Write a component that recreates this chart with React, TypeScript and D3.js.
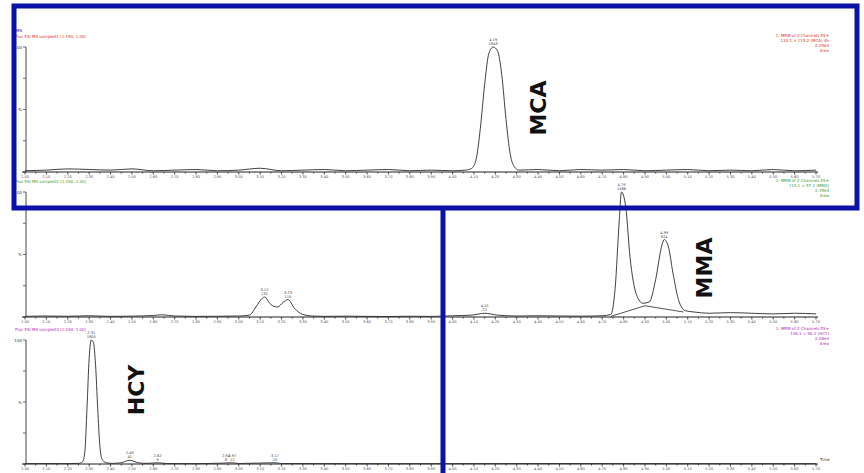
import React from "react";
import * as d3 from "d3";

const width = 864;
const height = 473;

// retention time axis (min)
const timeTicks = [
  2.0, 2.1, 2.2, 2.3, 2.4, 2.5, 2.6, 2.7, 2.8, 2.9,
  3.0, 3.1, 3.2, 3.3, 3.4, 3.5, 3.6, 3.7, 3.8, 3.9,
  4.0, 4.1, 4.2, 4.3, 4.4, 4.5, 4.6, 4.7, 4.8, 4.9,
  5.0, 5.1, 5.2, 5.3, 5.4, 5.5, 5.6, 5.7,
];

// traces: [time, relative %]
const mcaTrace: [number, number][] = [
  [2.0, 1], [2.1, 1.5], [2.2, 2.5], [2.3, 2], [2.4, 1.5], [2.5, 2.5], [2.6, 1],
  [2.7, 1.5], [2.8, 2], [2.9, 1], [3.0, 1.5], [3.1, 3], [3.2, 1], [3.3, 1.5],
  [3.4, 2], [3.5, 1], [3.6, 1.5], [3.7, 2], [3.8, 1], [3.9, 1.5], [4.0, 1],
  [4.06, 1.5], [4.09, 3], [4.11, 10], [4.13, 35], [4.15, 70], [4.17, 95],
  [4.19, 100], [4.21, 97], [4.23, 78], [4.25, 42], [4.27, 14], [4.29, 4],
  [4.31, 1.5], [4.4, 2], [4.5, 1], [4.6, 2], [4.7, 1.5], [4.8, 2], [4.9, 1],
  [5.0, 1.5], [5.1, 2], [5.2, 1], [5.3, 1.5], [5.4, 1], [5.5, 2], [5.6, 1], [5.7, 1.5],
];

const mmaTrace: [number, number][] = [
  [2.0, 0.5], [2.1, 0.8], [2.2, 0.6], [2.3, 1], [2.4, 0.5], [2.5, 0.7], [2.6, 1.2],
  [2.64, 1.8], [2.7, 0.8], [2.8, 0.5], [2.9, 0.6], [3.0, 0.8], [3.05, 1.5],
  [3.08, 8], [3.11, 15], [3.12, 16], [3.15, 10], [3.18, 8], [3.21, 12], [3.23, 14],
  [3.26, 7], [3.3, 2], [3.34, 0.8], [3.4, 0.5], [3.5, 0.7], [3.6, 0.5], [3.7, 0.4],
  [3.8, 0.6], [3.9, 0.5], [4.0, 1], [4.09, 1.5], [4.15, 3], [4.21, 1.5], [4.3, 0.8],
  [4.4, 1], [4.5, 0.8], [4.6, 0.7], [4.7, 1], [4.74, 2], [4.76, 22], [4.78, 78],
  [4.79, 100], [4.81, 88], [4.83, 48], [4.86, 18], [4.89, 11], [4.92, 12],
  [4.95, 30], [4.98, 58], [4.99, 62], [5.01, 56], [5.03, 36], [5.06, 12],
  [5.09, 5], [5.13, 4], [5.2, 3], [5.3, 3.5], [5.4, 3], [5.5, 2.5], [5.6, 3], [5.7, 2.5],
];

// integration baseline under the MMA pair
const mmaBaseline: [number, number][] = [[4.74, 0.5], [4.9, 9], [5.08, 4]];

const hcyTrace: [number, number][] = [
  [2.0, 0.3], [2.1, 0.4], [2.2, 0.3], [2.25, 0.5], [2.27, 2], [2.28, 10],
  [2.29, 45], [2.3, 85], [2.31, 100], [2.32, 98], [2.33, 80], [2.34, 45],
  [2.35, 15], [2.36, 4], [2.38, 1], [2.41, 0.5], [2.45, 1], [2.49, 3], [2.53, 1],
  [2.57, 0.5], [2.62, 1], [2.66, 0.4], [2.8, 0.3], [2.94, 0.8], [2.97, 1],
  [3.0, 0.4], [3.17, 1], [3.2, 0.4], [3.5, 0.3], [4.0, 0.3], [4.5, 0.4],
  [5.0, 0.3], [5.7, 0.3],
];

// peak annotations: [time, %, rt label, area label]
const mcaPeaks: [number, number, string, string][] = [[4.19, 100, "4.19", "2843"]];
const mmaPeaks: [number, number, string, string][] = [
  [3.12, 16, "3.12", "135"], [3.23, 14, "3.23", "110"], [4.15, 3, "4.15", "22"],
  [4.79, 100, "4.79", "1566"], [4.99, 62, "4.99", "924"],
];
const hcyPeaks: [number, number, string, string][] = [
  [2.31, 100, "2.31", "1805"], [2.49, 3, "2.49", "41"], [2.62, 1, "2.62", "9"],
  [2.94, 1, "2.94", "8"], [2.97, 1, "2.97", "12"], [3.17, 1, "3.17", "10"],
];

const mcaHeader = ["Plus ESI MS  sample01 (1.190, 1.00)"];
const mmaHeader = ["Plus ESI MS  sample02 (1.190, 1.00)"];
const hcyHeader = ["Plus ESI MS  sample03 (1.190, 1.00)"];
const mcaInfo = ["1: MRM of 2 Channels ES+", "133.1 > 115.2 (MCA) 4h", "2.25e4", "Area"];
const mmaInfo = ["2: MRM of 2 Channels ES+", "119.1 > 57.1 (MMA)", "2.35e4", "Area"];
const hcyInfo = ["1: MRM of 2 Channels ES+", "136.1 > 90.2 (HCY)", "2.08e4", "Area"];

const x = d3.scaleLinear().domain([2.0, 5.7]).range([25, 816]);

const panels = [
  { trace: mcaTrace, peaks: mcaPeaks, header: mcaHeader, info: mcaInfo, color: "#e0302c",
    top: 47, base: 172, name: "MCA", nameX: 538, nameY: 108, extra: null as null | [number, number][] },
  { trace: mmaTrace, peaks: mmaPeaks, header: mmaHeader, info: mmaInfo, color: "#3d9a32",
    top: 192, base: 317, name: "MMA", nameX: 704, nameY: 268, extra: mmaBaseline },
  { trace: hcyTrace, peaks: hcyPeaks, header: hcyHeader, info: hcyInfo, color: "#b02cb0",
    top: 340, base: 464, name: "HCY", nameX: 136, nameY: 390, extra: null },
];

const font = "DejaVu Sans, sans-serif";
const blue = "#0a12a8";

function Panel({ p }: { p: (typeof panels)[number] }) {
  const y = d3.scaleLinear().domain([0, 100]).range([p.base, p.top]);
  const line = d3.line<[number, number]>().x(d => x(d[0])).y(d => y(d[1])).curve(d3.curveMonotoneX);
  const minor = d3.range(0, timeTicks.length * 2 - 1).map(i => 2.0 + i * 0.05);
  return (
    <g>
      {/* headers */}
      {p.header.map((t, i) => (
        <text key={"h" + i} x={15} y={p.top - 9 + i * 5} fontSize={4} fill={p.color} fontFamily={font}>{t}</text>
      ))}
      {p.info.map((t, i) => (
        <text key={"i" + i} x={829} y={p.top - 10 + i * 5} fontSize={4} fill={p.color} textAnchor="end" fontFamily={font}>{t}</text>
      ))}
      {/* y axis */}
      <line x1={26} x2={26} y1={p.top} y2={p.base} stroke="#333" strokeWidth={0.9} />
      {[0, 25, 50, 75, 100].map(v => (
        <line key={v} x1={23} x2={26} y1={y(v)} y2={y(v)} stroke="#333" strokeWidth={0.7} />
      ))}
      <text x={22} y={p.top + 1.5} fontSize={4} textAnchor="end" fill="#333" fontFamily={font}>100</text>
      <text x={22} y={y(50) + 1.5} fontSize={4} textAnchor="end" fill="#333" fontFamily={font}>%</text>
      {/* x axis */}
      <line x1={22} x2={818} y1={p.base} y2={p.base} stroke="#222" strokeWidth={1.2} />
      {minor.map((t, i) => (
        <line key={"m" + i} x1={x(t)} x2={x(t)} y1={p.base} y2={p.base + (i % 2 === 0 ? 2.5 : 1.5)} stroke="#222" strokeWidth={0.8} />
      ))}
      {timeTicks.map(t => (
        <text key={t} x={x(t)} y={p.base + 6} fontSize={3.6} textAnchor="middle" fill="#555" fontFamily={font}>{t.toFixed(2)}</text>
      ))}
      {/* trace */}
      <path d={line(p.trace) ?? ""} fill="none" stroke="#2a2a2a" strokeWidth={0.9} />
      {p.extra && <path d={d3.line<[number, number]>().x(d => x(d[0])).y(d => y(d[1]))(p.extra) ?? ""} fill="none" stroke="#2a2a2a" strokeWidth={0.8} />}
      {p.peaks.map(([t, v, a, b]) => (
        <g key={a}>
          <text x={x(t)} y={y(v) - 6} fontSize={3.6} textAnchor="middle" fill="#444" fontFamily={font}>{a}</text>
          <text x={x(t)} y={y(v) - 2} fontSize={3.6} textAnchor="middle" fill="#444" fontFamily={font}>{b}</text>
        </g>
      ))}
      <text
        transform={`translate(${p.nameX},${p.nameY}) rotate(-90)`}
        textAnchor="middle" dominantBaseline="central"
        fontSize={22} fontWeight="bold" fontFamily={font} fill="#111"
      >{p.name}</text>
    </g>
  );
}

export default function App() {
  return (
    <svg width={width} height={height} style={{ position: "absolute", left: 0, top: 0, background: "#fff" }}>
      <rect width={width} height={height} fill="#fff" />
      <text x={16} y={32} fontSize={4} fill={blue} fontFamily={font}>MS</text>
      {panels.map(p => <Panel key={p.name} p={p} />)}
      <text x={820} y={461} fontSize={4} fill="#333" fontFamily={font}>Time</text>
      {/* highlight box and divider */}
      <rect x={14} y={6} width={843} height={202} fill="none" stroke={blue} strokeWidth={5} />
      <line x1={443} x2={443} y1={208} y2={473} stroke={blue} strokeWidth={5} />
    </svg>
  );
}
